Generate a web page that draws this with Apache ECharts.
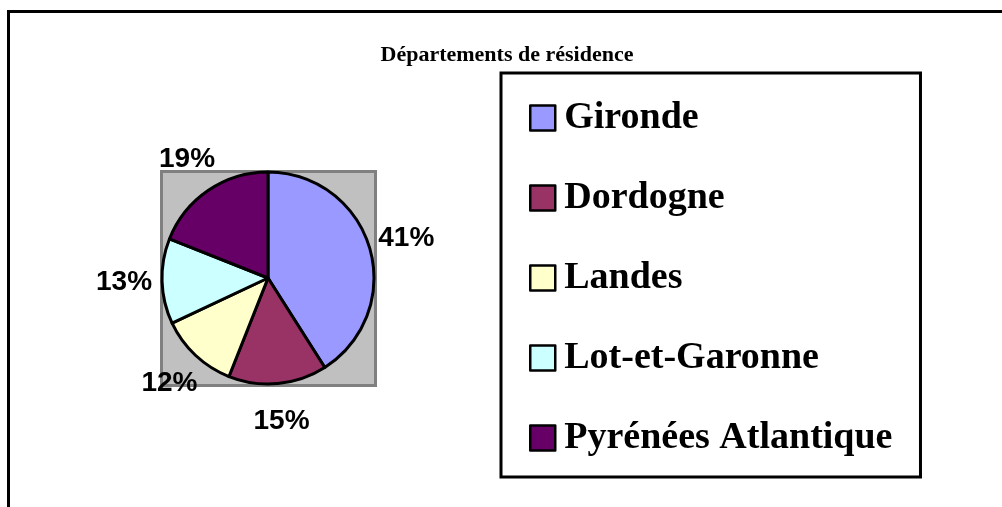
<!DOCTYPE html>
<html>
<head>
<meta charset="utf-8">
<script src="https://cdn.jsdelivr.net/npm/echarts@6/dist/echarts.min.js"></script>
<style>
    html, body { margin: 0; padding: 0; background: #fff; }
    #chart { width: 1002px; height: 507px; }
</style>
</head>
<body>
<div id="chart"></div>
<script>
var departements = ['Gironde', 'Dordogne', 'Landes', 'Lot-et-Garonne', 'Pyrénées Atlantique'];
var parts = [41, 15, 12, 13, 19];
var couleurs = ['#9999FF', '#993366', '#FFFFCC', '#CCFFFF', '#660066'];

var PIE_CX = 268;
var PIE_CY = 278;
var PIE_R = 106;
var LABEL_DIST = 144;   // distance centre -> centre de l'etiquette

var dom = document.getElementById('chart');
var myChart = echarts.init(dom);

var total = 0;
for (var i = 0; i < parts.length; i++) { total += parts[i]; }

var option = {
    animation: false,
    title: {
        text: 'Départements de résidence',
        left: 502,
        top: 39,
        textAlign: 'center',
        textStyle: {
            fontFamily: 'Liberation Serif',
            fontWeight: 'bold',
            fontSize: 22,
            color: '#000'
        }
    },
    legend: {
        orient: 'vertical',
        left: 501,
        top: 73,
        padding: [26, 28, 20, 28],
        borderColor: '#000',
        borderWidth: 3,
        itemWidth: 25,
        itemHeight: 25,
        itemGap: 42,
        icon: 'rect',
        selectedMode: false,
        itemStyle: { borderColor: '#000', borderWidth: 2.5 },
        textStyle: {
            fontFamily: 'Liberation Serif',
            fontWeight: 'bold',
            fontSize: 38,
            lineHeight: 38,
            padding: [0, 0, 0, 4],
            color: '#000'
        },
        data: departements
    },
    graphic: [
        {   // cadre exterieur
            type: 'rect',
            z: 0,
            shape: { x: 8.5, y: 11.5, width: 1010, height: 510 },
            style: { fill: 'none', stroke: '#000', lineWidth: 3 }
        },
        {   // zone de traçage grise
            type: 'rect',
            z: 0,
            shape: { x: PIE_CX - PIE_R - 0.5, y: PIE_CY - PIE_R - 0.5, width: 2 * PIE_R + 2, height: 2 * PIE_R + 2 },
            style: { fill: '#C0C0C0', stroke: '#808080', lineWidth: 3 }
        }
    ],
    series: [
        {
            name: 'Départements de résidence',
            type: 'pie',
            center: [PIE_CX, PIE_CY],
            radius: PIE_R,
            startAngle: 90,
            clockwise: true,
            avoidLabelOverlap: false,
            silent: true,
            emphasis: { disabled: true },
            itemStyle: { borderColor: '#000', borderWidth: 3 },
            label: {
                show: true,
                position: 'outside',
                formatter: '{c}%',
                fontFamily: 'Liberation Sans',
                fontWeight: 'bold',
                fontSize: 28,
                color: '#000'
            },
            labelLine: { show: false },
            labelLayout: function (params) {
                var before = 0;
                for (var k = 0; k < params.dataIndex; k++) { before += parts[k]; }
                var mid = (before + parts[params.dataIndex] / 2) / total * 2 * Math.PI;
                return {
                    x: PIE_CX + Math.sin(mid) * LABEL_DIST,
                    y: PIE_CY - Math.cos(mid) * LABEL_DIST,
                    align: 'center',
                    verticalAlign: 'middle'
                };
            },
            data: departements.map(function (nom, idx) {
                return { name: nom, value: parts[idx], itemStyle: { color: couleurs[idx] } };
            })
        }
    ]
};

myChart.setOption(option);
</script>
</body>
</html>
